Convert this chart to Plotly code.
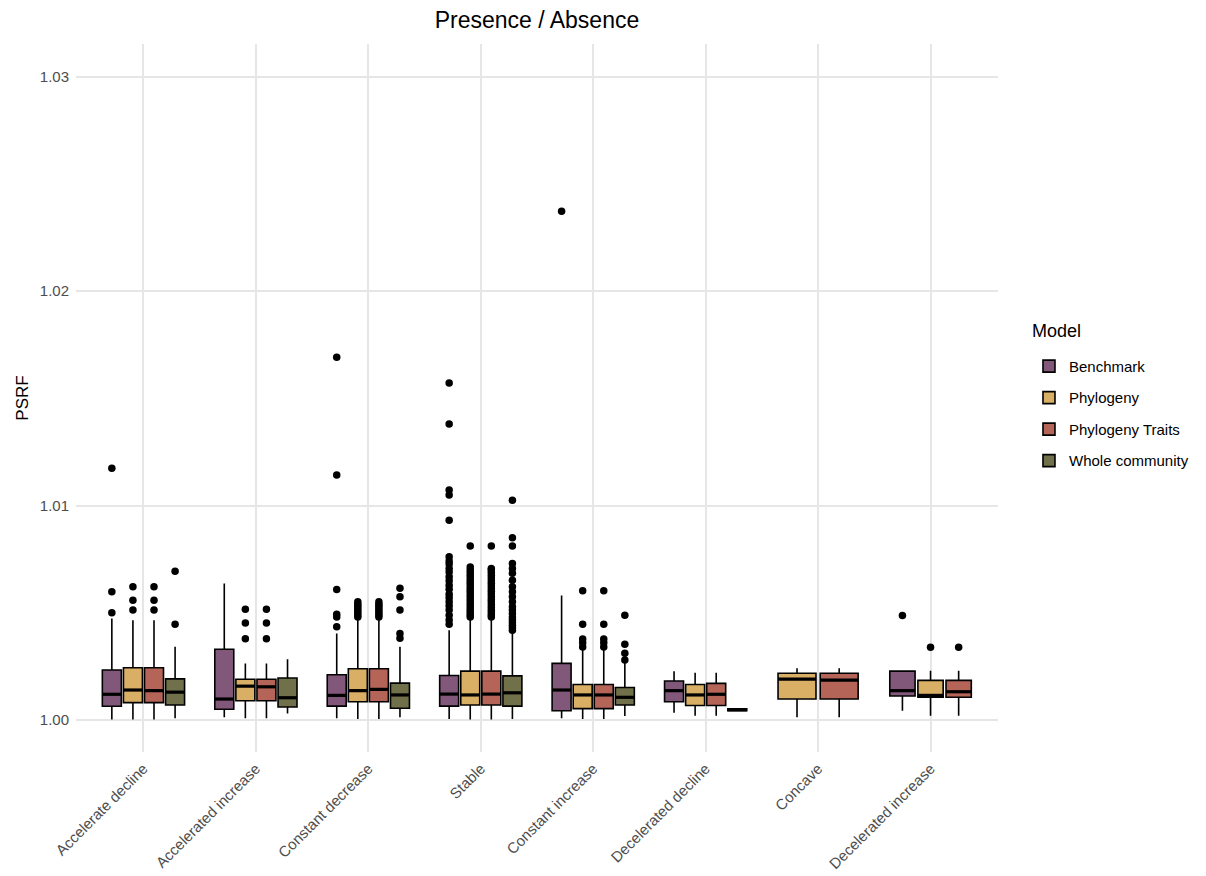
import plotly.graph_objects as go

categories = ["Accelerate decline", "Accelerated increase", "Constant decrease", "Stable",
              "Constant increase", "Decelerated decline", "Concave", "Decelerated increase"]
models = ["Benchmark", "Phylogeny", "Phylogeny Traits", "Whole community"]
colors = ["#82587A", "#D9AF66", "#B56557", "#70704A"]

# Box statistics per model (None = model absent for that trend)
bench_q1 = [1.00064, 1.00050, 1.00065, 1.00065, 1.00043, 1.00085, None, 1.00112]
bench_med = [1.00120, 1.00098, 1.00115, 1.00121, 1.00140, 1.00137, None, 1.00137]
bench_q3 = [1.00233, 1.00330, 1.00211, 1.00208, 1.00264, 1.00182, None, 1.00228]
bench_lo = [1.00003, 1.00013, 1.00008, 1.00005, 1.00008, 1.00034, None, 1.00043]
bench_hi = [1.00474, 1.00637, 1.00404, 1.00419, 1.00581, 1.00228, None, 1.00228]

phylo_q1 = [1.00081, 1.00090, 1.00085, 1.00070, 1.00053, 1.00068, 1.00098, 1.00106]
phylo_med = [1.00140, 1.00158, 1.00137, 1.00117, 1.00117, 1.00117, 1.00191, 1.00115]
phylo_q3 = [1.00244, 1.00190, 1.00239, 1.00228, 1.00166, 1.00166, 1.00218, 1.00185]
phylo_lo = [1.00003, 1.00008, 1.00005, 1.00003, 1.00005, 1.00020, 1.00013, 1.00020]
phylo_hi = [1.00465, 1.00264, 1.00466, 1.00474, 1.00329, 1.00220, 1.00241, 1.00230]

traits_q1 = [1.00081, 1.00090, 1.00085, 1.00070, 1.00053, 1.00068, 1.00098, 1.00106]
traits_med = [1.00137, 1.00155, 1.00143, 1.00121, 1.00117, 1.00120, 1.00186, 1.00132]
traits_q3 = [1.00244, 1.00190, 1.00239, 1.00228, 1.00166, 1.00171, 1.00218, 1.00185]
traits_lo = [1.00003, 1.00008, 1.00005, 1.00003, 1.00005, 1.00020, 1.00013, 1.00020]
traits_hi = [1.00465, 1.00264, 1.00466, 1.00474, 1.00329, 1.00220, 1.00241, 1.00230]

whole_q1 = [1.00070, 1.00061, 1.00055, 1.00065, 1.00070, 1.00043, None, None]
whole_med = [1.00130, 1.00104, 1.00117, 1.00127, 1.00106, 1.00048, None, None]
whole_q3 = [1.00192, 1.00196, 1.00172, 1.00206, 1.00152, 1.00052, None, None]
whole_lo = [1.00008, 1.00031, 1.00013, 1.00005, 1.00019, 1.00040, None, None]
whole_hi = [1.00342, 1.00283, 1.00342, 1.00412, 1.00272, 1.00055, None, None]

# Outliers per model, per trend
bench_out = [
    [1.00500, 1.00598, 1.01174],
    [],
    [1.00435, 1.00480, 1.00493, 1.00609, 1.01142, 1.01692],
    [1.00447, 1.00466, 1.00489, 1.00513, 1.00533, 1.00551, 1.00570, 1.00587, 1.00610,
     1.00629, 1.00650, 1.00668, 1.00690, 1.00707, 1.00727, 1.00741, 1.00761,
     1.00932, 1.01049, 1.01072, 1.01380, 1.01571],
    [1.02372],
    [], [], [1.00488],
]
phylo_out = [
    [1.00513, 1.00558, 1.00621],
    [1.00379, 1.00453, 1.00516],
    [1.00481, 1.00490, 1.00500, 1.00510, 1.00520, 1.00530, 1.00540, 1.00551],
    [1.00480, 1.00490, 1.00500, 1.00512, 1.00525, 1.00537, 1.00550, 1.00562, 1.00575,
     1.00588, 1.00600, 1.00612, 1.00625, 1.00638, 1.00650, 1.00662, 1.00675, 1.00688,
     1.00700, 1.00714, 1.00811],
    [1.00340, 1.00360, 1.00378, 1.00447, 1.00603],
    [], [], [1.00339],
]
traits_out = [
    [1.00513, 1.00558, 1.00621],
    [1.00379, 1.00453, 1.00516],
    [1.00481, 1.00490, 1.00500, 1.00510, 1.00520, 1.00530, 1.00540, 1.00551],
    [1.00480, 1.00490, 1.00500, 1.00512, 1.00525, 1.00537, 1.00550, 1.00562, 1.00575,
     1.00588, 1.00600, 1.00612, 1.00625, 1.00638, 1.00650, 1.00662, 1.00675, 1.00688,
     1.00700, 1.00707, 1.00811],
    [1.00340, 1.00360, 1.00378, 1.00447, 1.00603],
    [], [], [1.00339],
]
whole_out = [
    [1.00447, 1.00694],
    [],
    [1.00381, 1.00404, 1.00513, 1.00575, 1.00614],
    [1.00419, 1.00430, 1.00442, 1.00455, 1.00468, 1.00480, 1.00497, 1.00513, 1.00528,
     1.00551, 1.00575, 1.00598, 1.00621, 1.00652, 1.00684, 1.00707, 1.00730,
     1.00811, 1.00850, 1.01025],
    [1.00280, 1.00311, 1.00353, 1.00489],
    [], [], [],
]

stats = [
    (bench_q1, bench_med, bench_q3, bench_lo, bench_hi, bench_out),
    (phylo_q1, phylo_med, phylo_q3, phylo_lo, phylo_hi, phylo_out),
    (traits_q1, traits_med, traits_q3, traits_lo, traits_hi, traits_out),
    (whole_q1, whole_med, whole_q3, whole_lo, whole_hi, whole_out),
]

DODGE = 0.75
fig = go.Figure()

med_x, med_y = [], []
out_x, out_y = [], []
shown = set()
for ci, cat in enumerate(categories):
    present = [mi for mi in range(len(models)) if stats[mi][0][ci] is not None]
    n = len(present)
    slot = DODGE / n
    bw = slot * 0.9
    for k, mi in enumerate(present):
        q1, med, q3, lo, hi, outs = stats[mi]
        pos = (ci + 1) - DODGE / 2 + slot * (k + 0.5)
        fig.add_trace(go.Box(
            x=[pos], q1=[q1[ci]], median=[med[ci]], q3=[q3[ci]],
            lowerfence=[lo[ci]], upperfence=[hi[ci]],
            width=bw, whiskerwidth=0, boxpoints=False,
            fillcolor=colors[mi], line=dict(color="black", width=1.6),
            name=models[mi], legendgroup=models[mi],
            showlegend=mi not in shown, hoverinfo="skip",
        ))
        shown.add(mi)
        med_x += [pos - bw / 2, pos + bw / 2, None]
        med_y += [med[ci], med[ci], None]
        for v in outs[ci]:
            out_x.append(pos)
            out_y.append(v)

fig.add_trace(go.Scatter(x=med_x, y=med_y, mode="lines",
                         line=dict(color="black", width=3.2),
                         showlegend=False, hoverinfo="skip"))
fig.add_trace(go.Scatter(x=out_x, y=out_y, mode="markers",
                         marker=dict(color="black", size=7.5),
                         showlegend=False, hoverinfo="skip"))

fig.add_annotation(text="Model", xref="paper", yref="paper", x=1.0347, y=0.5946,
                   xanchor="left", yanchor="middle", showarrow=False,
                   font=dict(size=18, color="black"))

fig.update_layout(
    width=1206, height=876,
    paper_bgcolor="white", plot_bgcolor="white",
    margin=dict(l=68, r=216, t=36, b=132),
    font=dict(family="Liberation Sans, Arial, sans-serif", color="black"),
    title=dict(text="Presence / Absence", x=0.4386, xanchor="center",
               y=0.986, yanchor="middle", font=dict(size=23, color="black")),
    legend=dict(font=dict(size=15), x=1.0336, xanchor="left",
                y=0.568, yanchor="top", tracegroupgap=9,
                bgcolor="rgba(0,0,0,0)"),
    xaxis=dict(range=[0.4, 8.6], tickvals=list(range(1, len(categories) + 1)),
               ticktext=categories, tickangle=-45, showgrid=True,
               gridcolor="#E6E6E6", gridwidth=1.8, zeroline=False, showline=False,
               ticks="", ticklabelstandoff=4,
               tickfont=dict(size=15, color="#4D4D4D")),
    yaxis=dict(range=[0.99851, 1.03152], tickvals=[1.00, 1.01, 1.02, 1.03],
               ticktext=["1.00", "1.01", "1.02", "1.03"], showgrid=True,
               gridcolor="#E6E6E6", gridwidth=1.8, zeroline=False, showline=False,
               ticks="", ticklabelstandoff=6, tickfont=dict(size=15, color="#4D4D4D"),
               title=dict(text="PSRF", font=dict(size=17, color="black"), standoff=6)),
)

fig.write_html("out.html")
